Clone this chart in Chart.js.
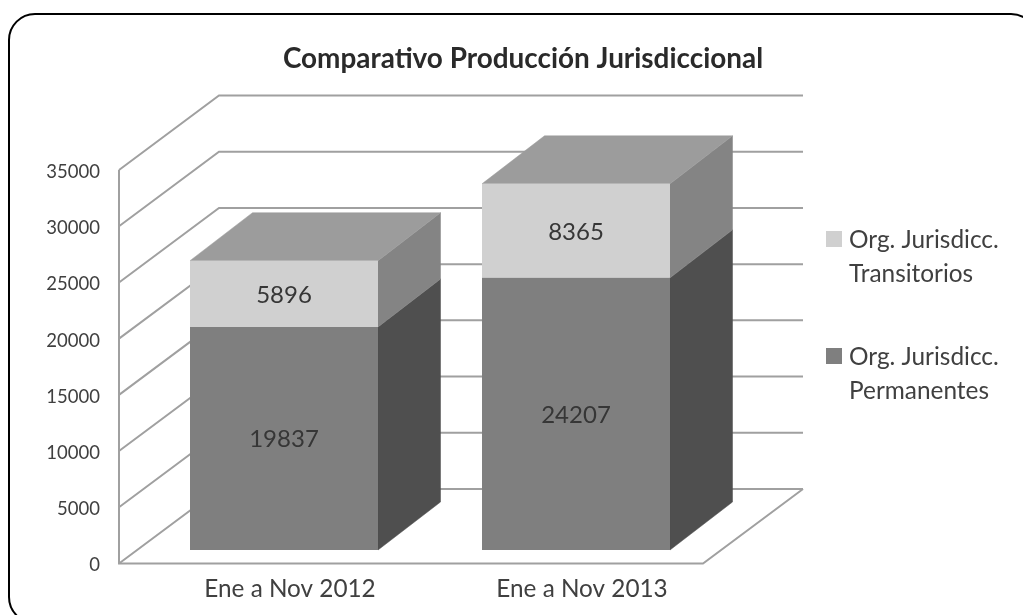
<!DOCTYPE html>
<html><head><meta charset="utf-8">
<style>html,body{margin:0;padding:0;background:#fff;overflow:hidden}#w{width:1023px;height:615px}</style>
<script src="https://cdn.jsdelivr.net/npm/chart.js@4"></script></head>
<body><div id="w"><canvas id="c" width="1023" height="615"></canvas></div>
<script>
const categories = ['Ene a Nov 2012', 'Ene a Nov 2013'];
const permanentes = [19837, 24207];
const transitorios = [5896, 8365];
const titleText = 'Comparativo Producción Jurisdiccional';
const legendPermanentes = ['Org. Jurisdicc.', 'Permanentes'];
const legendTransitorios = ['Org. Jurisdicc.', 'Transitorios'];

const FONT = 'Lato';
const TEXT = '#404040', GRID = '#a0a0a0';
const WALL = {dx: 100, dy: -74.5};
const SHIFT = {dx: 19, dy: -13.5};
const DEPTH = {dx: 62.5, dy: -48};
const PAL = {
  perm: {front: '#7f7f7f', side: '#4f4f4f', top: '#9c9c9c'},
  trans: {front: '#d0d0d0', side: '#848484', top: '#9c9c9c'}
};

function poly(ctx, pts, fill) {
  ctx.beginPath();
  pts.forEach((p, i) => i ? ctx.lineTo(p[0], p[1]) : ctx.moveTo(p[0], p[1]));
  ctx.closePath();
  ctx.fillStyle = fill;
  ctx.fill();
  ctx.strokeStyle = fill;
  ctx.lineWidth = 0.5;
  ctx.stroke();
}

const threeD = {
  id: 'threeD',
  beforeDatasetsDraw(chart) {
    const {ctx, scales: {x, y}, chartArea: a} = chart;
    ctx.save();
    ctx.strokeStyle = '#000'; ctx.lineWidth = 2;
    ctx.beginPath(); ctx.roundRect(9, 14, 1028, 609, 26); ctx.stroke();
    ctx.fillStyle = '#2a2a2a'; ctx.font = 'bold 27.9px ' + FONT;
    ctx.textAlign = 'center'; ctx.textBaseline = 'middle';
    ctx.fillText(titleText, 523, 58.5);
    ctx.strokeStyle = GRID; ctx.lineWidth = 2; ctx.lineJoin = 'miter';
    y.ticks.forEach(t => {
      const py = y.getPixelForValue(t.value);
      ctx.beginPath();
      ctx.moveTo(a.left, py);
      ctx.lineTo(a.left + WALL.dx, py + WALL.dy);
      ctx.lineTo(a.right + WALL.dx, py + WALL.dy);
      ctx.stroke();
    });
    ctx.beginPath();
    ctx.moveTo(a.left, y.getPixelForValue(y.max));
    ctx.lineTo(a.left, a.bottom);
    ctx.lineTo(a.right, a.bottom);
    ctx.lineTo(a.right + WALL.dx, a.bottom + WALL.dy);
    ctx.stroke();
    const keys = ['perm', 'trans'];
    chart.data.datasets.forEach((ds, di) => {
      chart.getDatasetMeta(di).data.forEach((bar) => {
        const p = bar.getProps(['x', 'y', 'base', 'width'], true);
        const r = p.x + p.width / 2 + SHIFT.dx, l = p.x - p.width / 2 + SHIFT.dx;
        const t = p.y + SHIFT.dy, b = p.base + SHIFT.dy;
        const c = PAL[keys[di]];
        poly(ctx, [[r, t], [r + DEPTH.dx, t + DEPTH.dy], [r + DEPTH.dx, b + DEPTH.dy], [r, b]], c.side);
        if (di === 1) poly(ctx, [[l, t], [r, t], [r + DEPTH.dx, t + DEPTH.dy], [l + DEPTH.dx, t + DEPTH.dy]], c.top);
      });
    });
    ctx.restore();
  },
  beforeDatasetDraw(chart) {
    chart.ctx.save();
    chart.ctx.translate(SHIFT.dx, SHIFT.dy);
  },
  afterDatasetDraw(chart) {
    chart.ctx.restore();
  },
  afterDatasetsDraw(chart) {
    const {ctx} = chart;
    ctx.save();
    ctx.fillStyle = '#363636'; ctx.font = '24px ' + FONT;
    ctx.textAlign = 'center'; ctx.textBaseline = 'middle';
    chart.data.datasets.forEach((ds, di) => {
      chart.getDatasetMeta(di).data.forEach((bar, i) => {
        const p = bar.getProps(['x', 'y', 'base'], true);
        ctx.fillText(String(ds.data[i]), p.x + SHIFT.dx, (p.y + p.base) / 2 + SHIFT.dy + 1);
      });
    });
    const items = [[legendTransitorios, PAL.trans.front, 231, 240], [legendPermanentes, PAL.perm.front, 348, 357]];
    ctx.textAlign = 'left';
    ctx.font = '24.4px ' + FONT;
    items.forEach(([lines, col, sy, ty]) => {
      ctx.fillStyle = col;
      ctx.fillRect(826, sy, 16, 16);
      ctx.fillStyle = TEXT;
      lines.forEach((s, k) => ctx.fillText(s, 849, ty + k * 34));
    });
    ctx.restore();
  }
};

new Chart(document.getElementById('c'), {
  type: 'bar',
  data: {
    labels: categories,
    datasets: [
      {label: 'Org. Jurisdicc. Permanentes', data: permanentes, backgroundColor: PAL.perm.front, clip: false},
      {label: 'Org. Jurisdicc. Transitorios', data: transitorios, backgroundColor: PAL.trans.front, clip: false}
    ]
  },
  options: {
    responsive: false,
    animation: false,
    barPercentage: 1,
    categoryPercentage: 188 / 292,
    layout: {padding: {top: 170, right: 320, left: 0, bottom: 0}},
    plugins: {legend: {display: false}, title: {display: false}, tooltip: {enabled: false}},
    scales: {
      x: {
        stacked: true,
        grid: {display: false, drawTicks: false},
        border: {display: false},
        ticks: {color: TEXT, font: {family: FONT, size: 24.3}, labelOffset: 25, padding: 11, maxRotation: 0, autoSkip: false},
        afterFit(s) { s.height = 615 - 563.5; }
      },
      y: {
        stacked: true,
        min: 0, max: 35000,
        grid: {display: false, drawTicks: false},
        border: {display: false},
        ticks: {stepSize: 5000, color: TEXT, font: {family: FONT, size: 18.5}, padding: 19, labelOffset: 2, callback: v => String(v)},
        afterFit(s) { s.width = 119; }
      }
    }
  },
  plugins: [threeD]
});
</script></body></html>
